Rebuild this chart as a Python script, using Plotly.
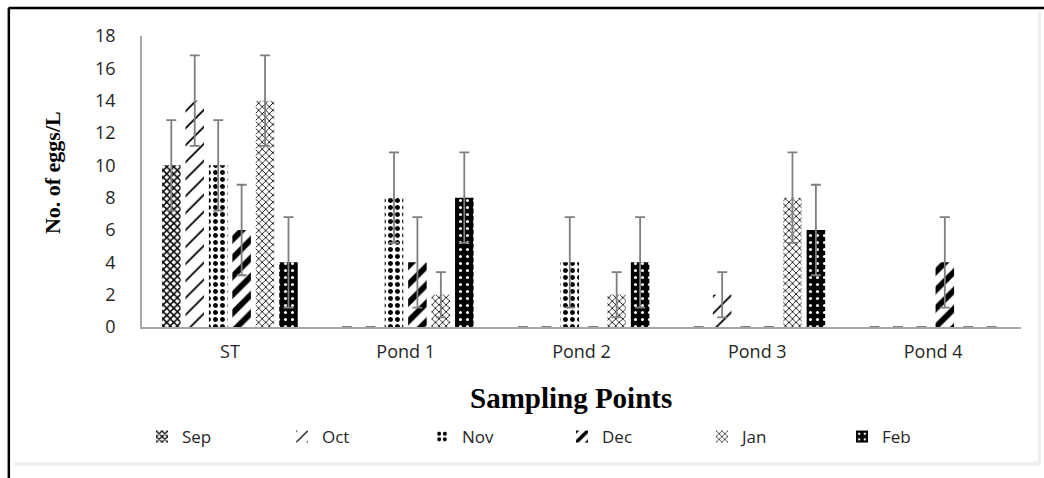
import plotly.graph_objects as go

# Sampling sites and months
sites = ["ST", "Pond 1", "Pond 2", "Pond 3", "Pond 4"]
months = ["Sep", "Oct", "Nov", "Dec", "Jan", "Feb"]

# Mean egg counts (No. of eggs/L) per site for each month
sep_vals = [10, 0, 0, 0, 0]
oct_vals = [14, 0, 0, 2, 0]
nov_vals = [10, 8, 4, 0, 0]
dec_vals = [6, 4, 0, 0, 4]
jan_vals = [14, 2, 2, 8, 0]
feb_vals = [4, 8, 4, 6, 0]

# Error (± deviation) per site for each month
sep_err = [2.8, 0, 0, 0, 0]
oct_err = [2.8, 0, 0, 1.4, 0]
nov_err = [2.8, 2.8, 2.8, 0, 0]
dec_err = [2.8, 2.8, 0, 0, 2.8]
jan_err = [2.8, 1.4, 1.4, 2.8, 0]
feb_err = [2.8, 2.8, 2.8, 2.8, 0]

y_ticks = [0, 2, 4, 6, 8, 10, 12, 14, 16, 18]

values = [sep_vals, oct_vals, nov_vals, dec_vals, jan_vals, feb_vals]
errors = [sep_err, oct_err, nov_err, dec_err, jan_err, feb_err]

# Monochrome fill patterns, one per month
patterns = [
    dict(shape="x", size=5, solidity=0.5, fgcolor="black", bgcolor="white"),
    dict(shape="/", size=12, solidity=0.15, fgcolor="black", bgcolor="white"),
    dict(shape=".", size=7, solidity=0.4, fgcolor="black", bgcolor="white"),
    dict(shape="/", size=13, solidity=0.45, fgcolor="black", bgcolor="white"),
    dict(shape="x", size=5, solidity=0.3, fgcolor="black", bgcolor="white"),
    dict(shape=".", size=7, solidity=0.15, fgcolor="white", bgcolor="black"),
]

fig = go.Figure()
for m, v, e, p in zip(months, values, errors, patterns):
    fig.add_trace(go.Bar(
        name=m, x=sites, y=v,
        marker=dict(color=p["bgcolor"], pattern=dict(fillmode="replace", **p),
                    line=dict(width=0)),
        error_y=dict(type="data", array=e, visible=True,
                     color="#7f7f7f", thickness=1.8, width=5),
    ))

tick_font = dict(family="Open Sans", size=18, color="#262626")
legend_font = dict(family="Open Sans", size=17, color="#262626")

fig.update_layout(
    width=1044, height=478,
    margin=dict(l=142, r=23, t=36, b=151),
    paper_bgcolor="white", plot_bgcolor="white",
    barmode="group", bargap=0.2, bargroupgap=0.21,
    showlegend=True,
    legend=dict(orientation="h", x=0.0, xanchor="left",
                y=-0.378, yanchor="middle", font=legend_font,
                entrywidth=95, entrywidthmode="pixels",
                itemwidth=30, bgcolor="rgba(0,0,0,0)"),
    xaxis=dict(showline=True, linecolor="#a6a6a6", linewidth=1.5,
               showgrid=False, ticks="", tickfont=tick_font,
               ticklabelstandoff=8),
    yaxis=dict(range=[0, 18], tickvals=y_ticks, showline=True,
               linecolor="#a6a6a6", linewidth=1.5, showgrid=False,
               zeroline=False, ticks="", tickfont=tick_font,
               ticklabelstandoff=21),
    annotations=[
        dict(text="<b>Sampling Points</b>", xref="paper", yref="paper",
             x=0.488, y=-0.245, xanchor="center", yanchor="middle",
             showarrow=False,
             font=dict(family="Liberation Serif", size=29, color="black")),
        dict(text="<b>No. of eggs/L</b>", xref="paper", yref="paper",
             x=-0.102, y=0.53, xanchor="center", yanchor="middle",
             textangle=-90, showarrow=False,
             font=dict(family="Liberation Serif", size=22, color="black")),
    ],
    shapes=[
        # frame around the chart
        dict(type="line", xref="paper", yref="paper", x0=-0.152, x1=1.05,
             y0=1.0962, y1=1.0962, line=dict(color="black", width=2.5)),
        dict(type="line", xref="paper", yref="paper", x0=-0.1515, x1=-0.1515,
             y0=1.0962, y1=-0.55, line=dict(color="black", width=2.5)),
        # soft edge on the right and bottom of the frame
        dict(type="line", xref="paper", yref="paper", x0=1.021, x1=1.021,
             y0=1.085, y1=-0.47, line=dict(color="#eeeeee", width=3)),
        dict(type="line", xref="paper", yref="paper", x0=-0.145, x1=1.021,
             y0=-0.47, y1=-0.47, line=dict(color="#eeeeee", width=4)),
    ],
)

fig.write_html("out.html")
